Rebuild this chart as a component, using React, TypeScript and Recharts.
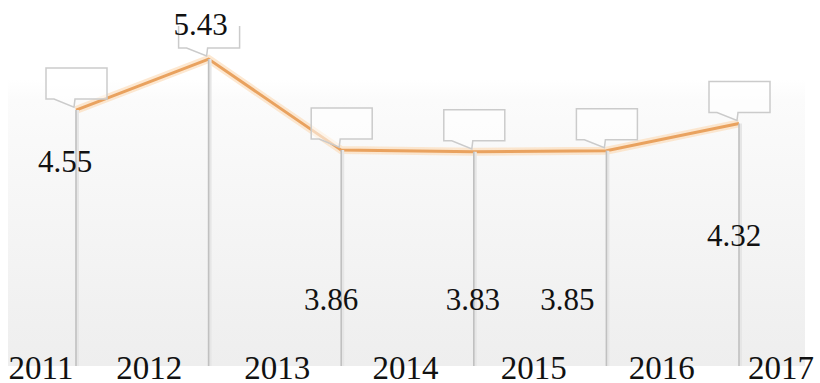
import React from 'react';
import { LineChart, Line, XAxis, YAxis, CartesianGrid, LabelList } from 'recharts';

// ---- data ----
const YEAR_TICKS = ['2011', '2012', '2013', '2014', '2015', '2016', '2017'];
const POINT_CATEGORIES = ['2011', '2012', '2013', '2014', '2015', '2016'];
const VALUES = [4.55, 5.43, 3.86, 3.83, 3.85, 4.32];

// ---- layout (not data) ----
const W = 820;
const H = 383;
const BG_BOTTOM = 366;
const YEAR_BASELINE = 379;
const SERIF = "'Liberation Serif', 'Times New Roman', serif";
const LABEL_OFFSETS: [number, number][] = [
  [-11, 62],
  [-8, -24],
  [-10, 160],
  [-1, 158],
  [-39, 159],
  [-5, 123],
];

const data = POINT_CATEGORIES.map((c, i) => ({ cat: c, idx: i, value: VALUES[i] }));

const Dot = (props: any) => {
  const { cx, cy, index } = props;
  if (cx == null || cy == null) return <g key={`d${index}`} />;
  const L = cx - 30;
  const R = cx + 31;
  const B = cy - 11;
  const T = B - 31;
  return (
    <g key={`d${index}`}>
      <line x1={cx + 1.5} y1={cy} x2={cx + 1.5} y2={BG_BOTTOM} stroke="#e6e6e6" strokeWidth={3} />
      <line x1={cx} y1={cy} x2={cx} y2={BG_BOTTOM} stroke="#c0c0c0" strokeWidth={1.6} />
      <path
        d={`M${L},${T}H${R}V${B}H${cx - 1}L${cx - 2},${cy - 3}L${L + 8},${B}H${L}Z`}
        fill="rgba(255,255,255,0.55)"
        stroke="#cbcbcb"
        strokeWidth={1.5}
      />
    </g>
  );
};

const ValueLabel = (props: any) => {
  const { x, y, index, value } = props;
  const off = LABEL_OFFSETS[index] || [0, 0];
  return (
    <text x={x + off[0]} y={y + off[1]} textAnchor="middle" fontFamily={SERIF} fontSize={31} fill="#111">
      {Number(value).toFixed(2)}
    </text>
  );
};

const YearTick = (props: any) => {
  const { x, payload } = props;
  const half = 33;
  const cx = Math.min(Math.max(x, half + 8), 814 - half);
  return (
    <text x={cx} y={YEAR_BASELINE} textAnchor="middle" fontFamily={SERIF} fontSize={33} fill="#111">
      {YEAR_TICKS[payload.value]}
    </text>
  );
};

export default function App() {
  return (
    <div style={{ width: W, height: H, background: '#fff' }}>
      <style>{`html,body{margin:0;padding:0;overflow:hidden;background:#fff}`}</style>
      <LineChart width={W} height={H} data={data} margin={{ top: 26, right: 15, left: 8, bottom: 0 }}>
        <defs>
          <linearGradient id="bgGrad" gradientUnits="userSpaceOnUse" x1="0" y1="80" x2="0" y2="366.5">
            <stop offset="0" stopColor="#ffffff" />
            <stop offset="0.07" stopColor="#fbfbfb" />
            <stop offset="0.998" stopColor="#eeeeee" />
            <stop offset="1" stopColor="#ffffff" />
          </linearGradient>
        </defs>
        <CartesianGrid horizontal={false} vertical={false} fill="url(#bgGrad)" stroke="none" />
        <XAxis dataKey="cat" hide padding={{ left: 68, right: 66 }} />
        <XAxis
          xAxisId="yr"
          dataKey="idx"
          type="number"
          domain={[0, 6]}
          allowDataOverflow
          ticks={[0, 1, 2, 3, 4, 5, 6]}
          interval={0}
          padding={{ left: 13, right: 15 }}
          axisLine={false}
          tickLine={false}
          height={9}
          tick={<YearTick />}
        />
        <YAxis hide domain={[0, 6]} allowDataOverflow />
        <Line
          dataKey="value"
          type="linear"
          stroke="#fbd8b3"
          strokeOpacity={0.6}
          strokeWidth={8}
          dot={false}
          activeDot={false}
          isAnimationActive={false}
        />
        <Line
          dataKey="value"
          type="linear"
          stroke="#e9a25f"
          strokeWidth={3}
          dot={<Dot />}
          activeDot={false}
          isAnimationActive={false}
        >
          <LabelList dataKey="value" content={<ValueLabel />} />
        </Line>
      </LineChart>
    </div>
  );
}
